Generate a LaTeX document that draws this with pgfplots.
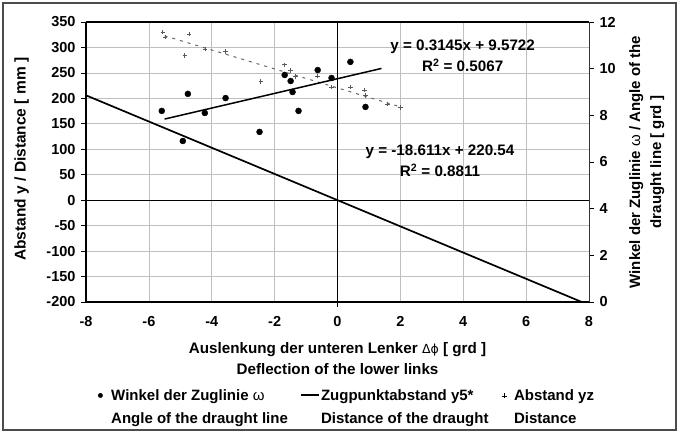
\documentclass[border=0pt]{standalone}
\usepackage{fontspec}
\setmainfont{Liberation Sans}
\newfontfamily\dejavu{DejaVu Sans}
\usepackage{pgfplots}
\pgfplotsset{compat=1.18}
\begin{document}
\begin{tikzpicture}[x=1pt,y=1pt]
\useasboundingbox (-86,-131) rectangle (593,302);
\draw[line width=1.2pt, black!70] (-83,-128) rectangle (590,299);
\begin{axis}[
  at={(0,0)}, anchor=south west,
  scale only axis, width=503pt, height=280pt,
  xmin=-8, xmax=8, ymin=-200, ymax=350,
  xtick={-8,-6,...,8}, ytick={-200,-150,...,350},
  grid=major, major grid style={black!25, line width=0.7pt},
  axis line style={line width=1.1pt},
  axis y line*=left, axis x line*=bottom,
  xtick style={draw=none},
  ytick style={black, line width=0.8pt},
  tick align=outside, major tick length=5pt,
  /pgf/number format/assume math mode=true,
  /pgf/number format/1000 sep={},
  scaled ticks=false,
  ticklabel style={font=\bfseries\fontsize{14.5}{16}\selectfont},
  xticklabel style={yshift=-6pt},
  yticklabel style={xshift=-2pt},
  xlabel={Auslenkung der unteren Lenker {\dejavu\mdseries\fontsize{12.5}{14}\selectfont Δϕ} [ grd ]\\Deflection of the lower links},
  xlabel style={align=center, font=\bfseries\fontsize{15.2}{21}\selectfont, at={(axis description cs:0.5,-0.133)}, anchor=north},
  ylabel={Abstand y /  Distance  [ mm ]},
  ylabel style={font=\bfseries\fontsize{15.5}{17}\selectfont, at={(axis description cs:-0.128,0.51)}, anchor=center},
  clip=false,
]
% zero lines
\draw[black, line width=1.2pt] (axis cs:-8,0) -- (axis cs:8,0);
\draw[black, line width=1.2pt] (axis cs:0,-210) -- (axis cs:0,350);
\draw[black, line width=1.1pt] (axis cs:-8,350) -- (axis cs:8,350);
% Zugpunktabstand y5*
\addplot[black, line width=1.7pt] coordinates {(-8,206) (7.77,-200)};
% Abstand yz
\addplot[only marks, mark=+, mark size=2.2pt, black!65, mark options={line width=0.6pt}] coordinates {
(-5.56,330) (-5.49,320) (-4.73,326) (-4.86,284) (-4.22,297) (-3.56,292)
(-2.44,233) (-1.68,266) (-1.49,255) (-1.33,243) (-0.63,244) (-0.19,222)
(0.41,222) (0.86,216) (0.89,206) (1.59,189) (2.0,182)};
% trend of Abstand yz
\addplot[black!60, line width=1pt, dash pattern=on 3pt off 5pt] coordinates {(-5.5,322.9) (2,183.3)};
\node[align=center, font=\bfseries\fontsize{15.2}{21}\selectfont] at (axis cs:3.98,284) {y = 0.3145x + 9.5722\\R\textsuperscript{2} = 0.5067};
\node[align=center, font=\bfseries\fontsize{15.2}{21}\selectfont] at (axis cs:3.26,77) {y = -18.611x + 220.54\\R\textsuperscript{2} = 0.8811};
\end{axis}
\begin{axis}[
  at={(0,0)}, anchor=south west,
  scale only axis, width=503pt, height=280pt,
  xmin=-8, xmax=8, ymin=0, ymax=12,
  axis x line=none, axis y line*=right,
  ytick={0,2,...,12},
  axis line style={line width=1pt, black!80},
  ytick style={black, line width=0.8pt},
  tick align=outside, major tick length=5pt,
  /pgf/number format/assume math mode=true,
  ticklabel style={font=\bfseries\fontsize{14.5}{16}\selectfont},
  yticklabel style={xshift=2pt},
  ylabel={Winkel der Zuglinie  {\mdseries ω} / Angle of the\\draught line  [ grd ]},
  ylabel style={align=center, font=\bfseries\fontsize{15}{21}\selectfont, at={(axis description cs:1.115,0.5)}, anchor=center, rotate=0},
  clip=false,
  legend columns=3,
  legend style={draw=none, fill=none, inner sep=0pt, column sep=0pt,
    nodes={inner sep=0pt}, cells={anchor=base west},
    font=\bfseries\fontsize{15}{23}\selectfont,
    at={(axis description cs:0.0223,-0.312)}, anchor=north west},
]
\addplot[only marks, mark=*, mark size=3pt, black,
  legend image code/.code={\fill (3pt,5pt) circle (2.2pt); \path[draw=none,fill=none] (0,0) -- (13.8pt,0);}]
  coordinates {
(-5.59,8.19) (-4.92,6.9) (-4.76,8.92) (-4.22,8.1) (-3.56,8.74) (-2.48,7.29)
(-1.68,9.73) (-1.49,9.47) (-1.43,9.0) (-1.24,8.19) (-0.63,9.94) (-0.19,9.6)
(0.41,10.29) (0.89,8.36)};
\addlegendentry{\parbox[t]{189pt}{Winkel der Zuglinie  {\mdseries ω}\\Angle of the draught line}}
\addlegendimage{legend image code/.code={\draw[line width=1.6pt] (0,5.5pt) -- (18pt,5.5pt); \path[draw=none,fill=none] (0,0) -- (20pt,0);}}
\addlegendentry{\parbox[t]{180pt}{Zugpunktabstand y5*\\Distance of the draught}}
\addlegendimage{legend image code/.code={\draw[line width=0.6pt] (0.5pt,4.5pt) -- (5.5pt,4.5pt) (3pt,2pt) -- (3pt,7pt); \path[draw=none,fill=none] (0,0) -- (13pt,0);}}
\addlegendentry{\parbox[t]{100pt}{Abstand yz\\Distance}}
\addplot[black, line width=1.5pt, forget plot] coordinates {(-5.5,7.84) (1.4,10.01)};
\end{axis}
\end{tikzpicture}
\end{document}
